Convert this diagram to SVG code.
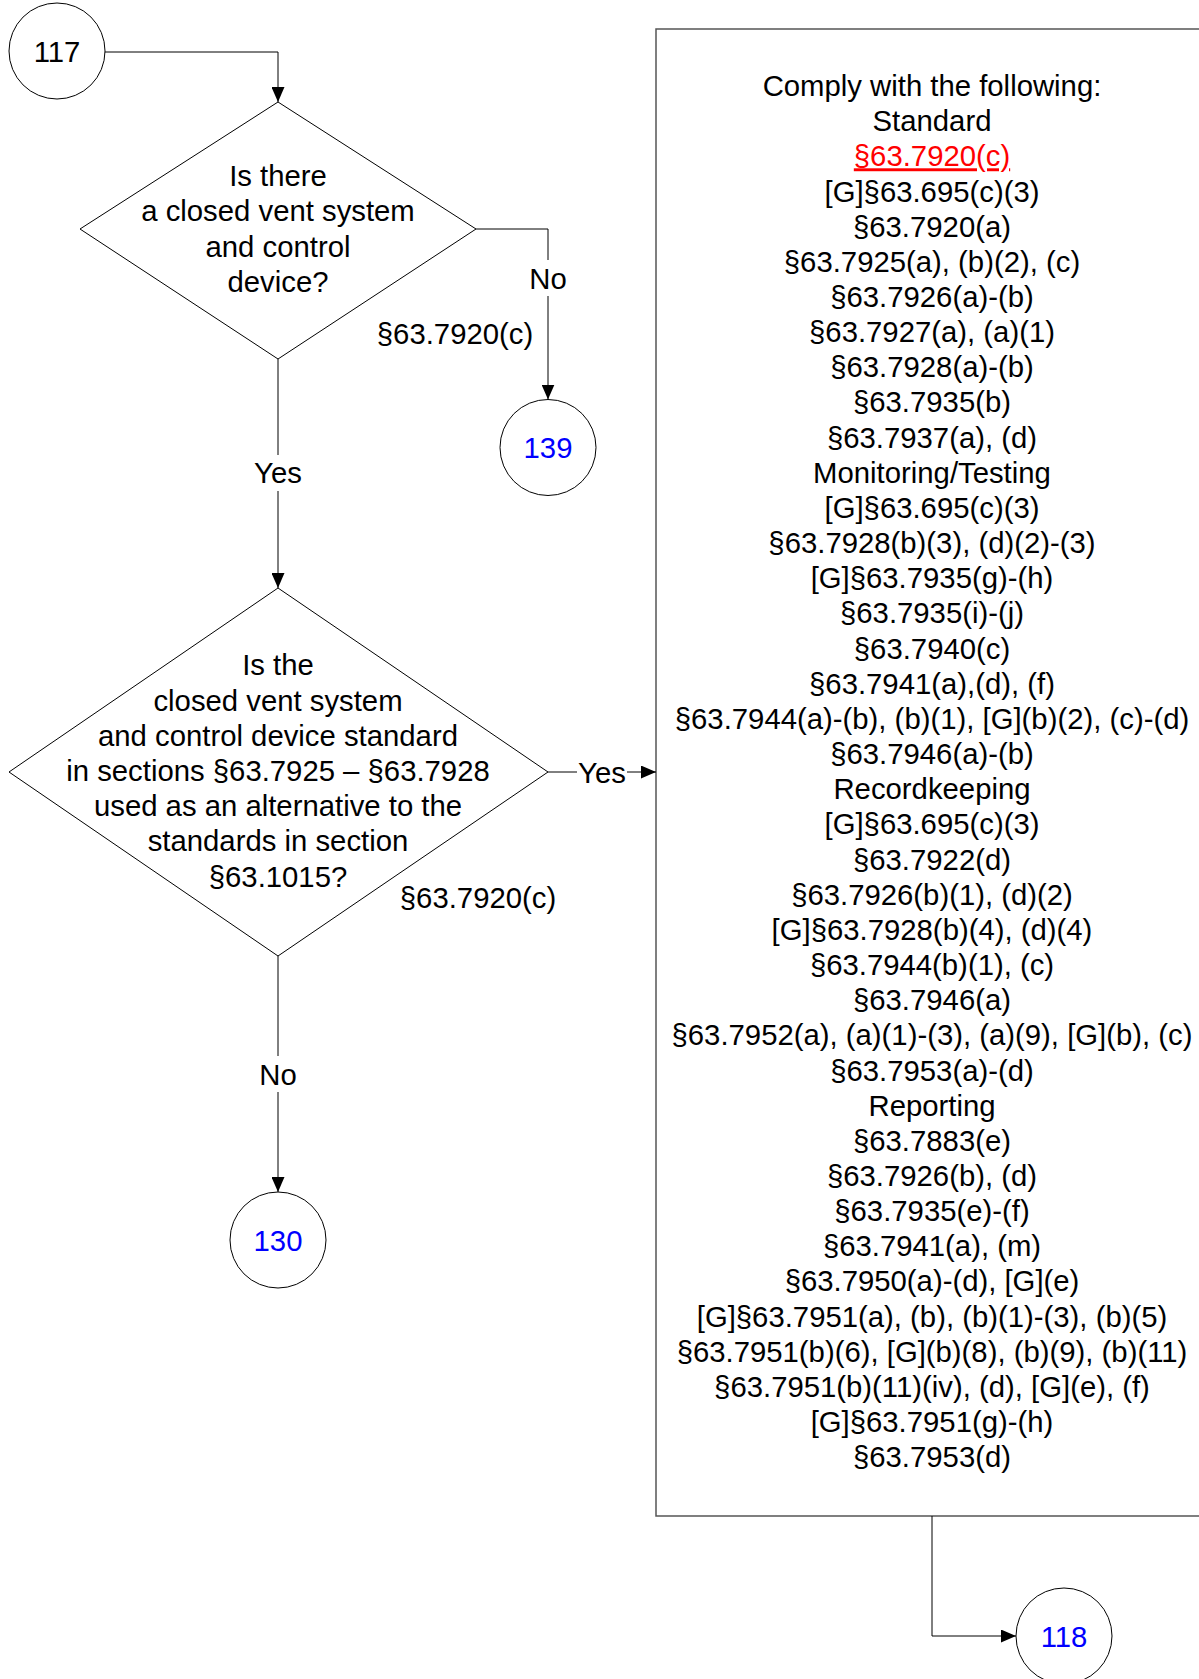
<svg xmlns="http://www.w3.org/2000/svg" width="1199" height="1679" viewBox="0 0 1199 1679">
<style>
text{font-family:"Liberation Sans",Arial,sans-serif;font-size:29.3px;fill:#000;text-anchor:middle}
.blue{fill:#0000ff}
.red{fill:#ff0000;text-decoration:underline}
.shape{fill:#fff;stroke:#000;stroke-width:1}
.box{fill:#fff;stroke:#555;stroke-width:1.5}
.conn{fill:none;stroke:#000;stroke-width:1}
.bg{fill:#fff;stroke:none}
</style>
<defs>
<marker id="arr" viewBox="0 0 15 13" refX="15" refY="6.5" markerWidth="15" markerHeight="13" markerUnits="userSpaceOnUse" orient="auto">
<path d="M0,0 L15,6.5 L0,13 Z" fill="#000"/>
</marker>
</defs>
<g id="n117">
<circle class="shape" cx="57" cy="51" r="48"/>
<text x="57" y="61.5">117</text>
</g>
<g id="d1">
<polygon class="shape" points="278,102 476,229 278,359 80,229"/>
<text x="278" y="186">Is there</text>
<text x="278" y="221">a closed vent system</text>
<text x="278" y="256.5">and control</text>
<text x="278" y="292">device?</text>
</g>
<g id="n139">
<circle class="shape" cx="548" cy="447.5" r="48"/>
<text class="blue" x="548" y="458">139</text>
</g>
<g id="d2">
<polygon class="shape" points="278,588 548,772 278,956 9,772"/>
<text x="278" y="675">Is the</text>
<text x="278" y="711">closed vent system</text>
<text x="278" y="746">and control device standard</text>
<text x="278" y="781">in sections §63.7925 – §63.7928</text>
<text x="278" y="816">used as an alternative to the</text>
<text x="278" y="851">standards in section</text>
<text x="278" y="887">§63.1015?</text>
</g>
<g id="n130">
<circle class="shape" cx="278" cy="1240" r="48"/>
<text class="blue" x="278" y="1250.5">130</text>
</g>
<g id="box">
<rect class="box" x="656" y="29" width="560" height="1487"/>
<text x="932" y="96">Comply with the following:</text>
<text x="932" y="131.2">Standard</text>
<text class="red" x="932" y="166.3">§63.7920(c)</text>
<text x="932" y="201.5">[G]§63.695(c)(3)</text>
<text x="932" y="236.6">§63.7920(a)</text>
<text x="932" y="271.8">§63.7925(a), (b)(2), (c)</text>
<text x="932" y="307">§63.7926(a)-(b)</text>
<text x="932" y="342.1">§63.7927(a), (a)(1)</text>
<text x="932" y="377.3">§63.7928(a)-(b)</text>
<text x="932" y="412.4">§63.7935(b)</text>
<text x="932" y="447.6">§63.7937(a), (d)</text>
<text x="932" y="482.8">Monitoring/Testing</text>
<text x="932" y="517.9">[G]§63.695(c)(3)</text>
<text x="932" y="553.1">§63.7928(b)(3), (d)(2)-(3)</text>
<text x="932" y="588.2">[G]§63.7935(g)-(h)</text>
<text x="932" y="623.4">§63.7935(i)-(j)</text>
<text x="932" y="658.6">§63.7940(c)</text>
<text x="932" y="693.7">§63.7941(a),(d), (f)</text>
<text x="932" y="728.9">§63.7944(a)-(b), (b)(1), [G](b)(2), (c)-(d)</text>
<text x="932" y="764">§63.7946(a)-(b)</text>
<text x="932" y="799.2">Recordkeeping</text>
<text x="932" y="834.4">[G]§63.695(c)(3)</text>
<text x="932" y="869.5">§63.7922(d)</text>
<text x="932" y="904.7">§63.7926(b)(1), (d)(2)</text>
<text x="932" y="939.8">[G]§63.7928(b)(4), (d)(4)</text>
<text x="932" y="975">§63.7944(b)(1), (c)</text>
<text x="932" y="1010.2">§63.7946(a)</text>
<text x="932" y="1045.3">§63.7952(a), (a)(1)-(3), (a)(9), [G](b), (c)</text>
<text x="932" y="1080.5">§63.7953(a)-(d)</text>
<text x="932" y="1115.6">Reporting</text>
<text x="932" y="1150.8">§63.7883(e)</text>
<text x="932" y="1186">§63.7926(b), (d)</text>
<text x="932" y="1221.1">§63.7935(e)-(f)</text>
<text x="932" y="1256.3">§63.7941(a), (m)</text>
<text x="932" y="1291.4">§63.7950(a)-(d), [G](e)</text>
<text x="932" y="1326.6">[G]§63.7951(a), (b), (b)(1)-(3), (b)(5)</text>
<text x="932" y="1361.8">§63.7951(b)(6), [G](b)(8), (b)(9), (b)(11)</text>
<text x="932" y="1396.9">§63.7951(b)(11)(iv), (d), [G](e), (f)</text>
<text x="932" y="1432.1">[G]§63.7951(g)-(h)</text>
<text x="932" y="1467.2">§63.7953(d)</text>
</g>
<g id="n118">
<circle class="shape" cx="1064" cy="1636" r="48"/>
<text class="blue" x="1064" y="1646.5">118</text>
</g>
<g id="connectors">
<path class="conn" d="M105,52 H278 V102" marker-end="url(#arr)"/>
<path class="conn" d="M476,229 H548 V399.5" marker-end="url(#arr)"/>
<rect class="bg" x="528" y="260" width="40" height="36"/>
<text x="548" y="289">No</text>
<text x="455" y="344">§63.7920(c)</text>
<path class="conn" d="M278,359 V588" marker-end="url(#arr)"/>
<rect class="bg" x="250" y="455" width="56" height="36"/>
<text x="278" y="483">Yes</text>
<path class="conn" d="M548,772 H656" marker-end="url(#arr)"/>
<rect class="bg" x="577" y="755" width="50" height="34"/>
<text x="602" y="782.5">Yes</text>
<text x="478" y="908">§63.7920(c)</text>
<path class="conn" d="M278,956 V1192" marker-end="url(#arr)"/>
<rect class="bg" x="258" y="1056" width="40" height="36"/>
<text x="278" y="1084.5">No</text>
<path class="conn" d="M932,1516 V1636 H1016" marker-end="url(#arr)"/>
</g>
</svg>
